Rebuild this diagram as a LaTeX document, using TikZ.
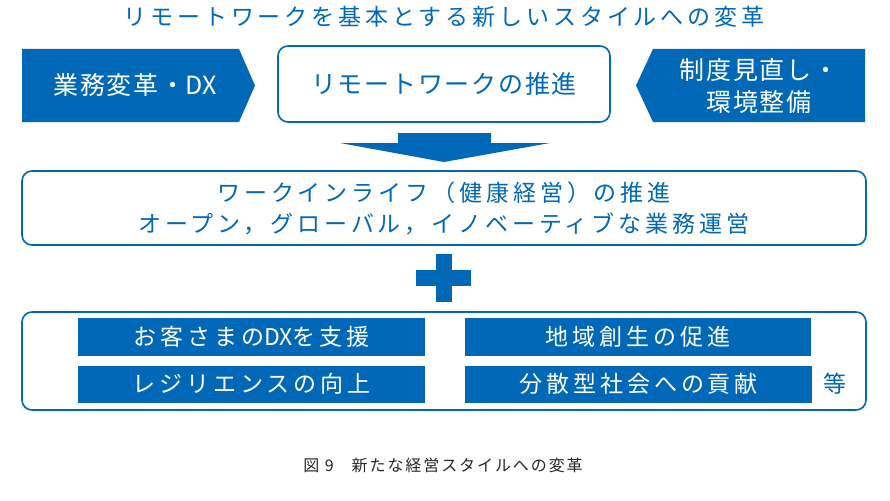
\documentclass[tikz,border=0pt]{standalone}
\usepackage{fontspec}
\setmainfont{Noto Sans CJK JP}
\newfontfamily\jpwide[LetterSpace=17]{Noto Sans CJK JP}
\newfontfamily\jptop[LetterSpace=7]{Noto Sans CJK JP}
\newfontfamily\jpcap[LetterSpace=12]{Noto Sans CJK JP}
\newfontfamily\jpplain{Noto Sans CJK JP}
\newcommand{\dxword}{{\jpplain DX}}
\usetikzlibrary{positioning,calc}
\definecolor{dxblue}{HTML}{0068B7}
\definecolor{capgray}{HTML}{262626}

\begin{document}
\begin{tikzpicture}[x=1pt, y=-1pt]
		\tikzstyle{frame}=[draw=dxblue, line width=1.6pt, rounded corners=10pt, fill=white, text=dxblue, inner sep=0pt]
		\tikzstyle{bluebox}=[fill=dxblue, text=white, inner sep=0pt]
		\tikzstyle{toptext}=[font=\jptop\fontsize{25}{32}\selectfont, align=center, inner sep=0pt]
		\tikzstyle{lowtext}=[font=\jpwide\fontsize{23}{31}\selectfont, align=center, inner sep=0pt]
		
		\useasboundingbox (0,0) rectangle (890,500);
		
		\node (title) at (444,17) [lowtext, text=dxblue] {リモートワークを基本とする新しいスタイルへの変革};
		
		\fill[dxblue] (22,49) -- (239,49) -- (255,85.5) -- (239,122) -- (22,122) -- cycle;
		\node (reform) at (135,85) [toptext, text=white] {業務変革・\dxword};
		
		\node (remote) at (444,84) [frame, toptext, text=dxblue, minimum width=332, minimum height=76] {リモートワークの推進};
		
		\fill[dxblue] (653,49) -- (865,49) -- (865,122) -- (653,122) -- (636,85.5) -- cycle;
		\node (system) at (759,86) [toptext, text=white] {制度見直し・\\環境整備};
		
		\fill[dxblue] (398,133) -- (491,133) -- (491,143) -- (550,143) -- (444,162) -- (340,143) -- (398,143) -- cycle;
		
		\node (workstyle) at (444,208) [frame, lowtext, minimum width=844, minimum height=74] {ワークインライフ（健康経営）の推進\\オープン，グローバル，イノベーティブな業務運営};
		
		\fill[dxblue] (416,270) rectangle (471,286);
		\fill[dxblue] (436,254) rectangle (452,302);
		
		\node (effects) at (444,361) [frame, minimum width=844, minimum height=98] {};
		
		\node (clientdx) at (78,318) [bluebox, lowtext, text=white, minimum width=347, minimum height=38, anchor=north west] {お客さまの\dxword を支援};
		\node (region) at (465,318) [bluebox, lowtext, text=white, minimum width=346, minimum height=38, anchor=north west] {地域創生の促進};
		\node (resilience) at (clientdx.south west) [bluebox, lowtext, text=white, minimum width=347, minimum height=37, anchor=north west, yshift=-9pt] {レジリエンスの向上};
		\node (society) at (region.south west) [bluebox, lowtext, text=white, minimum width=347, minimum height=37, anchor=north west, yshift=-9pt] {分散型社会への貢献};
		\node (etc) at (society.east) [lowtext, text=dxblue, right=11pt] {等};
		
		\node (caption) at (443,465) [font=\jpcap\fontsize{16}{20}\selectfont, text=capgray] {図 9\hspace{18pt}新たな経営スタイルへの変革};
		
\end{tikzpicture}
\end{document}
